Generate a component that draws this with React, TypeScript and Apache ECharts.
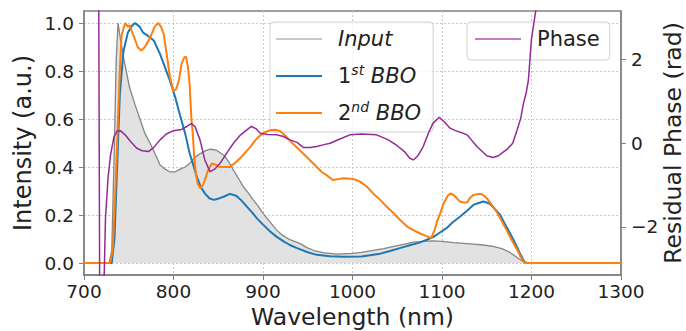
import React, { useEffect, useRef } from "react";
import * as echarts from "echarts";

const FONT = "DejaVu Sans";

// Wavelength ticks
const xTicks = [700, 800, 900, 1000, 1100, 1200, 1300];
const leftTicks = [0, 0.2, 0.4, 0.6, 0.8, 1.0];
const rightTicks = [-2, 0, 2];

// Input spectrum
const inputX = [700, 728, 731, 734, 736, 738, 740, 744, 751, 757, 763, 768, 774, 780, 785, 791, 796, 802, 807, 813, 818, 824, 830, 836, 841, 848, 856, 862, 867, 873, 878, 884, 889, 895, 900, 908, 915, 922, 930, 941, 949, 957, 967, 982, 1000, 1010, 1023, 1035, 1046, 1057, 1068, 1079, 1090, 1100, 1113, 1124, 1135, 1146, 1157, 1167, 1176, 1185, 1192, 1195, 1300];
const inputY = [0, 0, 0.05, 0.5, 0.85, 1.0, 0.95, 0.86, 0.73, 0.66, 0.595, 0.54, 0.498, 0.45, 0.408, 0.39, 0.38, 0.38, 0.39, 0.4, 0.415, 0.44, 0.456, 0.468, 0.474, 0.47, 0.45, 0.42, 0.387, 0.35, 0.318, 0.29, 0.263, 0.235, 0.207, 0.17, 0.138, 0.115, 0.097, 0.082, 0.064, 0.052, 0.043, 0.037, 0.04, 0.044, 0.053, 0.06, 0.069, 0.078, 0.087, 0.09, 0.092, 0.09, 0.085, 0.082, 0.079, 0.075, 0.069, 0.06, 0.044, 0.02, 0.003, 0, 0];

// 1st BBO
const bbo1X = [700, 731, 734, 737, 740, 744, 749, 754, 757, 762, 766, 772, 778, 785, 790, 796, 802, 807, 813, 818, 822, 826, 830, 835, 840, 845, 850, 856, 863, 870, 876, 882, 888, 893, 900, 908, 915, 923, 930, 938, 950, 960, 975, 990, 1010, 1031, 1042, 1053, 1064, 1075, 1083, 1090, 1097, 1105, 1112, 1120, 1128, 1135, 1141, 1146, 1150, 1154, 1159, 1165, 1170, 1176, 1182, 1187, 1192, 1195, 1300];
const bbo1Y = [0, 0, 0.1, 0.4, 0.7, 0.88, 0.96, 0.99, 1.0, 0.985, 0.96, 0.945, 0.927, 0.87, 0.82, 0.76, 0.69, 0.62, 0.54, 0.457, 0.41, 0.36, 0.32, 0.29, 0.27, 0.263, 0.268, 0.276, 0.288, 0.28, 0.26, 0.235, 0.21, 0.187, 0.16, 0.131, 0.11, 0.09, 0.075, 0.062, 0.045, 0.034, 0.028, 0.026, 0.027, 0.039, 0.05, 0.062, 0.074, 0.085, 0.097, 0.108, 0.125, 0.145, 0.17, 0.193, 0.218, 0.242, 0.25, 0.256, 0.252, 0.245, 0.225, 0.2, 0.165, 0.124, 0.08, 0.041, 0.005, 0, 0];

// 2nd BBO
const bbo2X = [700, 729, 732, 735, 738, 740, 742, 746, 749, 751, 755, 760, 764, 768, 774, 779, 783, 786, 789, 792, 796, 800, 803, 806, 809, 812, 814, 816, 818, 820, 821.5, 823, 825, 827, 830, 833, 835, 839, 843, 847, 852, 858, 863, 868, 874, 880, 886, 891, 897, 902, 908, 914, 919, 925, 930, 941, 952, 960, 966, 971, 978, 985, 990, 1001, 1008, 1016, 1023, 1031, 1038, 1046, 1053, 1061, 1068, 1075, 1082, 1088, 1092, 1095, 1098, 1102, 1107, 1110, 1113, 1117, 1120, 1124, 1128, 1131, 1135, 1140, 1144, 1147, 1150, 1155, 1161, 1166, 1172, 1178, 1184, 1188, 1192, 1300];
const bbo2Y = [0, 0, 0.05, 0.3, 0.6, 0.8, 0.95, 1.0, 0.985, 0.99, 0.95, 0.9, 0.885, 0.9, 0.94, 0.985, 1.0, 0.985, 0.955, 0.88, 0.775, 0.716, 0.725, 0.76, 0.83, 0.857, 0.86, 0.82, 0.747, 0.6, 0.54, 0.45, 0.373, 0.33, 0.311, 0.325, 0.346, 0.39, 0.415, 0.41, 0.4, 0.4, 0.4, 0.415, 0.435, 0.46, 0.484, 0.51, 0.532, 0.545, 0.553, 0.555, 0.55, 0.53, 0.51, 0.47, 0.43, 0.4, 0.378, 0.366, 0.346, 0.35, 0.353, 0.35, 0.34, 0.318, 0.29, 0.263, 0.235, 0.207, 0.18, 0.152, 0.137, 0.124, 0.113, 0.104, 0.14, 0.18, 0.207, 0.25, 0.283, 0.29, 0.283, 0.268, 0.256, 0.252, 0.252, 0.27, 0.283, 0.287, 0.287, 0.28, 0.27, 0.245, 0.214, 0.18, 0.138, 0.095, 0.055, 0.025, 0, 0];

// Residual phase (rad)
const phaseX = [712, 716.5, 717.5, 720, 722.4, 724, 726.8, 729.7, 733.5, 737, 740.6, 746, 752, 759, 765, 772, 778, 785, 792, 800, 809, 815, 820, 824, 829.6, 835, 840.8, 846, 852, 860, 867, 875, 882, 887, 892, 897, 905, 915, 923, 930, 938, 945, 953, 960, 967, 975, 986, 997, 1010, 1027, 1040, 1050, 1058, 1064, 1068, 1073, 1079, 1085, 1090, 1097, 1103, 1109, 1115, 1122, 1128, 1134, 1139, 1145, 1150, 1157, 1163, 1168, 1173, 1179, 1184, 1188, 1191, 1194, 1196.5, 1200, 1205, 1208];
const phaseY = [5, 3.4, -3.4, -5, -3.3, -1.8, -0.84, -0.28, 0.16, 0.29, 0.3, 0.2, 0.04, -0.12, -0.18, -0.2, -0.1, 0.08, 0.22, 0.3, 0.33, 0.4, 0.47, 0.4, 0.08, -0.4, -0.68, -0.62, -0.48, -0.22, 0, 0.2, 0.32, 0.4, 0.35, 0.24, 0.21, 0.2, 0.16, 0.08, 0.02, -0.1, -0.1, -0.08, -0.04, 0, 0.1, 0.2, 0.22, 0.2, 0.08, -0.06, -0.2, -0.36, -0.4, -0.3, -0.08, 0.25, 0.48, 0.62, 0.5, 0.36, 0.3, 0.25, 0.2, 0.05, -0.08, -0.2, -0.3, -0.34, -0.3, -0.22, -0.14, 0, 0.32, 0.6, 0.95, 1.2, 1.5, 2.5, 3.2, 4];

const zip = (xs: number[], ys: number[]) => xs.map((x, i) => [x, ys[i]]);

const AXIS_GRAY = "#808080";
const GRID_GRAY = "#c8c8c8";
const TEXT = "#222222";

export default function App() {
  const ref = useRef<HTMLDivElement>(null);
  useEffect(() => {
    if (!ref.current) return;
    const chart = echarts.init(ref.current, undefined, { renderer: "svg" });
    const richBase = {
      sp: { width: 11, lineHeight: 26 },
      it: { fontStyle: "italic", fontSize: 21, fontFamily: FONT, color: TEXT, lineHeight: 26 },
      n: { fontSize: 21, fontFamily: FONT, color: TEXT, lineHeight: 26 },
      sup: { fontSize: 14, fontStyle: "italic", fontFamily: FONT, color: TEXT, verticalAlign: "top", lineHeight: 14 },
    };
    const legendFormatter = (name: string) => {
      if (name === "Input") return "{sp|}{it|Input}";
      if (name === "1st BBO") return "{sp|}{n|1}{sup|st}{n| }{it|BBO}";
      if (name === "2nd BBO") return "{sp|}{n|2}{sup|nd}{n| }{it|BBO}";
      return "{sp|}{n|" + name + "}";
    };
    const legendCommon = {
      orient: "vertical",
      icon: "rect",
      itemWidth: 46,
      itemHeight: 2,
      itemGap: 11,
      selectedMode: false,
      backgroundColor: "rgba(255,255,255,0.8)",
      borderColor: "#d0d0d0",
      borderWidth: 1,
      borderRadius: 4,
      itemStyle: { borderWidth: 0 },
      formatter: legendFormatter,
      textStyle: { fontFamily: FONT, fontSize: 21, color: TEXT, lineHeight: 26, rich: richBase },
    };
    chart.setOption({
      animation: false,
      backgroundColor: "#ffffff",
      textStyle: { fontFamily: FONT },
      grid: {
        left: 84,
        right: 65,
        top: 11,
        bottom: 56,
        containLabel: false,
        outerBoundsMode: "none",
        show: true,
        borderColor: AXIS_GRAY,
        borderWidth: 1.5,
        backgroundColor: "transparent",
      },
      legend: [
        {
          ...legendCommon,
          left: 270,
          top: 22,
          padding: [4, 12, 6, 6],
          data: [
            { name: "Input", itemStyle: { color: "#c8c8c8" } },
            { name: "1st BBO", itemStyle: { color: "#1f77b4" } },
            { name: "2nd BBO", itemStyle: { color: "#ff7f0e" } },
          ],
        },
        {
          ...legendCommon,
          left: 467,
          top: 22,
          padding: [4, 10, 8, 8],
          data: [{ name: "Phase", itemStyle: { color: "#c47ac4" } }],
        },
      ],
      xAxis: {
        type: "value",
        min: xTicks[0],
        max: xTicks[xTicks.length - 1],
        interval: 100,
        name: "Wavelength (nm)",
        nameLocation: "middle",
        nameGap: 30,
        nameMoveOverlap: false,
        nameTextStyle: { fontSize: 23.5, color: TEXT, fontFamily: FONT, lineHeight: 24 },
        axisLine: { show: true, onZero: false, lineStyle: { color: AXIS_GRAY, width: 1.5 } },
        axisTick: { show: true, length: 5, lineStyle: { color: AXIS_GRAY, width: 1 } },
        axisLabel: {
          fontSize: 18.5,
          color: TEXT,
          margin: 7,
          fontFamily: FONT,
          formatter: (v: number) => String(v),
        },
        splitLine: { show: true, lineStyle: { color: GRID_GRAY, type: [2, 2], width: 1 } },
      },
      yAxis: [
        {
          type: "value",
          position: "left",
          min: -0.05,
          max: 1.05,
          name: "Intensity (a.u.)",
          nameLocation: "middle",
          nameRotate: 90,
          nameGap: 49,
          nameMoveOverlap: false,
          nameTextStyle: { fontSize: 24, color: TEXT, fontFamily: FONT, lineHeight: 24 },
          axisLine: { show: true, onZero: false, lineStyle: { color: AXIS_GRAY, width: 1.5 } },
          axisTick: { show: true, length: 5, customValues: leftTicks, lineStyle: { color: AXIS_GRAY, width: 1 } },
          axisLabel: {
            customValues: leftTicks,
            formatter: (v: number) => v.toFixed(1),
            fontSize: 18.5,
            color: TEXT,
            margin: 10,
            fontFamily: FONT,
          },
          splitLine: { show: true, lineStyle: { color: GRID_GRAY, type: [2, 2], width: 1 } },
        },
        {
          type: "value",
          position: "right",
          min: -3.15,
          max: 3.16,
          name: "Residual Phase (rad)",
          nameLocation: "middle",
          nameRotate: 90,
          nameGap: 40,
          nameMoveOverlap: false,
          nameTextStyle: { fontSize: 23.5, color: TEXT, fontFamily: FONT, lineHeight: 23 },
          axisLine: { show: true, onZero: false, lineStyle: { color: AXIS_GRAY, width: 1.5 } },
          axisTick: { show: true, length: 5, customValues: rightTicks, lineStyle: { color: AXIS_GRAY, width: 1 } },
          axisLabel: {
            customValues: rightTicks,
            formatter: (v: number) => (v < 0 ? "\u2212" + Math.abs(v) : String(v)),
            fontSize: 18.5,
            color: TEXT,
            margin: 10,
            fontFamily: FONT,
          },
          splitLine: { show: false },
        },
      ],
      series: [
        {
          name: "Input",
          type: "line",
          data: zip(inputX, inputY),
          symbol: "none",
          itemStyle: { color: "#c8c8c8" },
          lineStyle: { color: "#858585", width: 1.3 },
          areaStyle: { color: "#e2e2e2", opacity: 1 },
          z: 2,
        },
        {
          name: "1st BBO",
          type: "line",
          data: zip(bbo1X, bbo1Y),
          symbol: "none",
          itemStyle: { color: "#1f77b4" },
          lineStyle: { color: "#1f77b4", width: 2 },
          z: 3,
        },
        {
          name: "2nd BBO",
          type: "line",
          data: zip(bbo2X, bbo2Y),
          symbol: "none",
          itemStyle: { color: "#ff7f0e" },
          lineStyle: { color: "#ff7f0e", width: 2 },
          z: 4,
        },
        {
          name: "Phase",
          type: "line",
          yAxisIndex: 1,
          data: zip(phaseX, phaseY),
          symbol: "none",
          itemStyle: { color: "#c47ac4" },
          lineStyle: { color: "#952a95", width: 1.5 },
          z: 5,
        },
      ],
    });
    return () => chart.dispose();
  }, []);
  return (
    <div
      ref={ref}
      style={{ position: "fixed", left: 0, top: 0, width: 686, height: 331, background: "#fff" }}
    />
  );
}
